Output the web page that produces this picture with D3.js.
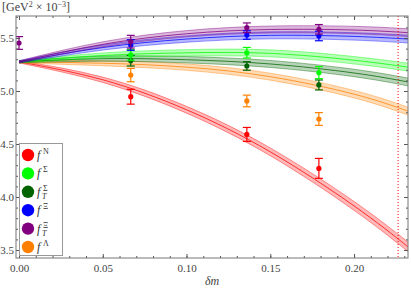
<!DOCTYPE html>
<html>
<head>
<meta charset="utf-8">
<script src="https://cdn.jsdelivr.net/npm/d3@7"></script>
<style>
  body { margin: 0; background: #fff; }
  text { font-family: "Liberation Serif", "DejaVu Serif", serif; }
</style>
</head>
<body>
<svg width="411" height="289"></svg>
<script>
// fit curves at these dm values
const curveX = [0, 0.05, 0.10, 0.15, 0.20, 0.2322]
const fitN  = [5.275, 5.106, 4.823, 4.426, 3.916, 3.53]
const fitS  = [5.275, 5.335, 5.36, 5.355, 5.29, 5.225]
const fitST = [5.275, 5.305, 5.295, 5.255, 5.17, 5.085]
const fitX  = [5.275, 5.41, 5.49, 5.525, 5.515, 5.49]
const fitXT = [5.275, 5.44, 5.54, 5.58, 5.575, 5.55]
const fitL  = [5.275, 5.262, 5.225, 5.135, 4.97, 4.81]
// band half widths
const bandN = [0.01, 0.025, 0.032, 0.037, 0.042, 0.045]
const bandO = [0.01, 0.024, 0.03, 0.033, 0.035, 0.037]

// lattice points
const pointX  = [0.0667, 0.136, 0.179]
const ptN  = [4.946, 4.59, 4.27],  errN  = [0.07, 0.066, 0.094]
const ptS  = [5.34, 5.361, 5.173], errS  = [0.05, 0.05, 0.057]
const ptST = [5.286, 5.236, 5.057], errST = [0.05, 0.04, 0.047]
const ptX  = [5.434, 5.528, 5.519], errX  = [0.05, 0.04, 0.045]
const ptXT = [5.465, 5.597, 5.582], errXT = [0.06, 0.045, 0.045]
const ptL  = [5.15, 4.906, 4.736], errL  = [0.063, 0.055, 0.06]
const ptXT0 = 5.453, errXT0 = 0.06

const cutX = 0.2263

const xTicks = [0, 0.05, 0.10, 0.15, 0.20]
const yTicks = [3.5, 4.0, 4.5, 5.0, 5.5]

const series = [
    { name: "N",  sub: "",  color: "#ff0000", fit: fitN,  band: bandN, pt: ptN,  err: errN },
    { name: "Λ",  sub: "",  color: "#ff8000", fit: fitL,  band: bandO, pt: ptL,  err: errL },
    { name: "Σ",  sub: "T", color: "#006400", fit: fitST, band: bandO, pt: ptST, err: errST },
    { name: "Σ",  sub: "",  color: "#00ff00", fit: fitS,  band: bandO, pt: ptS,  err: errS },
    { name: "Ξ",  sub: "",  color: "#0000ff", fit: fitX,  band: bandO, pt: ptX,  err: errX },
    { name: "Ξ",  sub: "T", color: "#800080", fit: fitXT, band: bandO, pt: ptXT, err: errXT }
]
const legendOrder = [0, 3, 2, 4, 5, 1]

const svg = d3.select("svg")
const x = d3.scaleLinear().domain([-0.0018, 0.2322]).range([16, 408])
const y = d3.scaleLinear().domain([3.4245, 5.7075]).range([258, 16])

const plot = svg.append("g")
plot.append("clipPath").attr("id", "clip")
    .append("rect").attr("x", 16).attr("y", 16).attr("width", 392).attr("height", 242)
const inner = plot.append("g").attr("clip-path", "url(#clip)")

// bands
series.forEach(s => {
    const pts = curveX.map((cx, i) => ({ x: cx, v: s.fit[i], b: s.band[i] }))
    const area = d3.area().curve(d3.curveNatural)
        .x(d => x(d.x)).y0(d => y(d.v - d.b)).y1(d => y(d.v + d.b))
    inner.append("path").attr("d", area(pts))
        .attr("fill", s.color).attr("fill-opacity", 0.28)
    const mk = off => d3.line().curve(d3.curveNatural)
        .x(d => x(d.x)).y(d => y(d.v + off * d.b))
    ;[-1, 0, 1].forEach(off => {
        inner.append("path").attr("d", mk(off)(pts))
            .attr("fill", "none").attr("stroke", s.color)
            .attr("stroke-opacity", off === 0 ? 0.75 : 0.5)
            .attr("stroke-width", off === 0 ? 1 : 0.8)
    })
})

// dotted cut line
inner.append("line")
    .attr("x1", x(cutX)).attr("x2", x(cutX)).attr("y1", 16).attr("y2", 258)
    .attr("stroke", "#ff0000").attr("stroke-width", 1).attr("stroke-dasharray", "1,2")

// points with error bars
function drawPoint(px, v, e, color) {
    const g = inner.append("g").attr("stroke", color).attr("stroke-width", 1.2)
    g.append("line").attr("x1", x(px)).attr("x2", x(px)).attr("y1", y(v - e)).attr("y2", y(v + e))
    ;[v - e, v + e].forEach(yy => {
        g.append("line").attr("x1", x(px) - 4).attr("x2", x(px) + 4).attr("y1", y(yy)).attr("y2", y(yy))
    })
    inner.append("circle").attr("cx", x(px)).attr("cy", y(v)).attr("r", 2.6).attr("fill", color)
}
series.forEach(s => {
    pointX.forEach((px, i) => drawPoint(px, s.pt[i], s.err[i], s.color))
})
drawPoint(0, ptXT0, errXT0, "#800080")

// axes (ticks inside, on all four sides)
const axisColor = "#555"
function styleAxis(g) {
    g.select(".domain").remove()
    g.selectAll("line").attr("stroke", axisColor)
    g.selectAll("text").attr("fill", "#444").style("font-size", "11px")
        .style("font-family", "Liberation Serif, serif")
}
const xMinor = d3.range(0, 0.231, 0.01)
const yMinor = d3.range(3.5, 5.71, 0.1)

const bx = svg.append("g").attr("transform", "translate(0,258)")
    .call(d3.axisBottom(x).tickValues(xMinor).tickSize(-2).tickFormat(""))
styleAxis(bx)
const bx2 = svg.append("g").attr("transform", "translate(0,258)")
    .call(d3.axisBottom(x).tickValues(xTicks).tickSize(-4).tickPadding(6).tickFormat(d3.format(".2f")))
styleAxis(bx2)
bx2.selectAll("text").attr("y", 6)

const tx = svg.append("g").attr("transform", "translate(0,16)")
    .call(d3.axisTop(x).tickValues(xMinor).tickSize(-2).tickFormat(""))
styleAxis(tx)
const tx2 = svg.append("g").attr("transform", "translate(0,16)")
    .call(d3.axisTop(x).tickValues(xTicks).tickSize(-4).tickFormat(""))
styleAxis(tx2)

const ly = svg.append("g").attr("transform", "translate(16,0)")
    .call(d3.axisLeft(y).tickValues(yMinor).tickSize(-2).tickFormat(""))
styleAxis(ly)
const ly2 = svg.append("g").attr("transform", "translate(16,0)")
    .call(d3.axisLeft(y).tickValues(yTicks).tickSize(-4).tickPadding(2).tickFormat(d3.format(".1f")))
styleAxis(ly2)

const ry = svg.append("g").attr("transform", "translate(408,0)")
    .call(d3.axisRight(y).tickValues(yMinor).tickSize(-2).tickFormat(""))
styleAxis(ry)
const ry2 = svg.append("g").attr("transform", "translate(408,0)")
    .call(d3.axisRight(y).tickValues(yTicks).tickSize(-4).tickFormat(""))
styleAxis(ry2)

svg.append("rect").attr("x", 16).attr("y", 16).attr("width", 392).attr("height", 242)
    .attr("fill", "none").attr("stroke", "#777").attr("stroke-width", 1)

// axis labels
const unit = svg.append("text").attr("x", 2).attr("y", 11).attr("fill", "#444").style("font-size", "12px")
unit.append("tspan").text("[GeV")
unit.append("tspan").text("2").style("font-size", "8px").attr("dy", -4)
unit.append("tspan").text(" × 10").style("font-size", "12px").attr("dy", 4)
unit.append("tspan").text("−3").style("font-size", "8px").attr("dy", -4)
unit.append("tspan").text("]").style("font-size", "12px").attr("dy", 4)

svg.append("text").attr("x", 212).attr("y", 285).attr("text-anchor", "middle")
    .attr("fill", "#444").style("font-size", "12px").style("font-style", "italic").text("δm")

// legend
const leg = svg.append("g")
leg.append("rect").attr("x", 19.5).attr("y", 143.5).attr("width", 43).attr("height", 112)
    .attr("fill", "#fff").attr("stroke", "#999")
legendOrder.forEach((si, i) => {
    const s = series[si]
    const cy = 155 + i * 18.4
    leg.append("circle").attr("cx", 28).attr("cy", cy).attr("r", 6.2).attr("fill", s.color)
    leg.append("text").attr("x", 37).attr("y", cy + 4).attr("fill", "#333")
        .style("font-size", "12px").style("font-style", "italic").text("f")
    leg.append("text").attr("x", 43).attr("y", cy - 1).attr("fill", "#333")
        .style("font-size", "8px").text(s.name)
    if (s.sub) {
        leg.append("text").attr("x", 42).attr("y", cy + 7).attr("fill", "#333")
            .style("font-size", "8px").style("font-style", "italic").text(s.sub)
    }
})
</script>
</body>
</html>
